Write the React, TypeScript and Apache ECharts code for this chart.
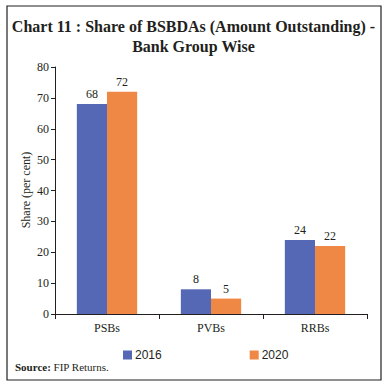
import React, { useEffect, useRef } from "react";
import * as echarts from "echarts";

const categories = ["PSBs", "PVBs", "RRBs"];
const series2016 = [68, 8, 24];
const series2020 = [72, 5, 22];
const seriesNames = ["2016", "2020"];
const yAxisName = "Share (per cent)";

const SERIF = "'Liberation Serif', 'DejaVu Serif', serif";
const SANS = "'Liberation Sans', 'DejaVu Sans', sans-serif";

export default function App() {
  const ref = useRef<HTMLDivElement>(null);
  useEffect(() => {
    const chart = echarts.init(ref.current!, null, { renderer: "svg" });
    chart.setOption({
      animation: false,
      backgroundColor: "#fff",
      title: {
        text: "Chart 11 : Share of BSBDAs (Amount Outstanding) -\nBank Group Wise",
        left: "center",
        top: 11,
        textStyle: { fontFamily: SERIF, fontWeight: "bold", fontSize: 16, color: "#231f20", lineHeight: 20 },
      },
      graphic: [
        { type: "rect", shape: { x: 7, y: 6, width: 374, height: 374 }, style: { fill: "none", stroke: "#231f20", lineWidth: 1.2 }, silent: true },
        {
          type: "text",
          x: 26,
          y: 190,
          rotation: Math.PI / 2,
          style: {
            text: yAxisName,
            font: "12px " + SERIF,
            fill: "#231f20",
            align: "center",
            verticalAlign: "middle",
          },
        },
        {
          type: "text",
          left: 15,
          top: 361,
          style: {
            text: "{b|Source:} FIP Returns.",
            rich: { b: { fontFamily: SERIF, fontWeight: "bold", fontSize: 11, fill: "#231f20" } },
            font: "11px " + SERIF,
            fill: "#231f20",
          },
        },
      ],
      legend: {
        data: seriesNames,
        left: 118,
        top: 344,
        itemWidth: 9,
        itemHeight: 9,
        itemGap: 88,
        icon: "rect",
        textStyle: { fontFamily: SANS, fontSize: 12, color: "#231f20", padding: [0, 0, 0, -2] },
      },
      grid: { left: 55, right: 20, top: 67, bottom: 74 },
      xAxis: {
        type: "category",
        data: categories,
        axisLine: { lineStyle: { color: "#231f20", width: 1 } },
        axisTick: { show: true, alignWithLabel: false, length: 5, lineStyle: { color: "#231f20" } },
        axisLabel: { fontFamily: SERIF, fontSize: 12, color: "#231f20", margin: 8 },
      },
      yAxis: {
        type: "value",
        min: 0,
        max: 80,
        interval: 10,
        axisLine: { show: true, lineStyle: { color: "#231f20", width: 1 } },
        axisTick: { show: true, length: 4, lineStyle: { color: "#231f20" } },
        splitLine: { show: false },
        axisLabel: { fontFamily: SERIF, fontSize: 12, color: "#231f20", margin: 6 },
      },
      series: [
        {
          name: seriesNames[0],
          type: "bar",
          data: series2016,
          barGap: "0%",
          barCategoryGap: "42%",
          itemStyle: { color: "#5568b5" },
          label: { show: true, position: "top", fontFamily: SERIF, fontSize: 12, color: "#231f20", distance: 4 },
        },
        {
          name: seriesNames[1],
          type: "bar",
          data: series2020,
          itemStyle: { color: "#ee8844" },
          label: { show: true, position: "top", fontFamily: SERIF, fontSize: 12, color: "#231f20", distance: 4 },
        },
      ],
    });
    return () => chart.dispose();
  }, []);
  return <div ref={ref} style={{ position: "absolute", left: 0, top: 0, width: 387, height: 388 }} />;
}
